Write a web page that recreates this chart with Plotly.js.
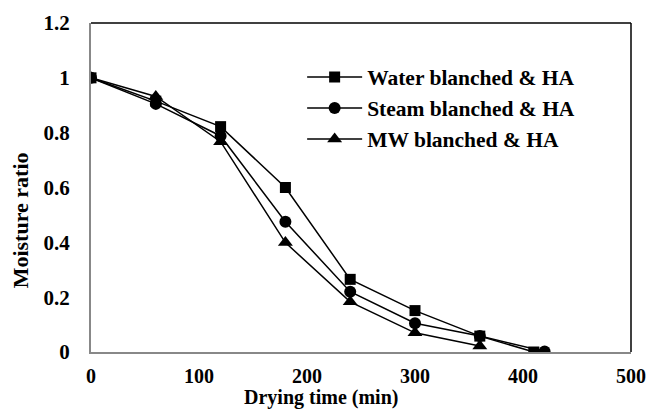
<!DOCTYPE html>
<html>
<head>
<meta charset="utf-8">
<script src="https://cdn.plot.ly/plotly-3.0.1.min.js"></script>
<style>html,body{margin:0;padding:0;background:#fff;}#chart{width:650px;height:410px;}</style>
</head>
<body>
<div id="chart"></div>
<script>
// Data
const seriesNames = ["Water blanched & HA", "Steam blanched & HA", "MW blanched & HA"];
const waterTime  = [0, 60, 120, 180, 240, 300, 360, 410];
const waterMR    = [1.0, 0.915, 0.822, 0.600, 0.265, 0.151, 0.058, 0.0];
const steamTime  = [0, 60, 120, 180, 240, 300, 360, 420];
const steamMR    = [1.0, 0.905, 0.788, 0.475, 0.220, 0.105, 0.058, 0.002];
const mwTime     = [0, 60, 120, 180, 240, 300, 360];
const mwMR       = [1.0, 0.932, 0.767, 0.399, 0.183, 0.070, 0.022];
const xTickVals  = [0, 100, 200, 300, 400, 500];
const yTickVals  = [0, 0.2, 0.4, 0.6, 0.8, 1, 1.2];
const xTitle = "Drying time (min)";
const yTitle = "Moisture ratio";

const FONT = "Liberation Serif, Times New Roman, serif";
function mk(x, y, name, sym, sz, grp) {
  return {
    x: x, y: y, name: name, type: "scatter", mode: "lines+markers",
    legendgroup: grp,
    line: {color: "#000", width: 1.5},
    marker: {symbol: sym, size: sz, color: "#000"}
  };
}
const traces = [
  mk(waterTime, waterMR, seriesNames[0], "square", 11, "a"),
  mk(steamTime, steamMR, seriesNames[1], "circle", 12, "b"),
  mk(mwTime, mwMR, seriesNames[2], "triangle-up", 13, "c")
];
const layout = {
  width: 650, height: 410,
  margin: {l: 91, r: 19, t: 23, b: 58},
  paper_bgcolor: "#fff", plot_bgcolor: "#fff",
  font: {family: FONT, size: 21, color: "#000", weight: "bold"},
  showlegend: true,
  legend: {
    x: 0.391, y: 0.898, xanchor: "left", yanchor: "top",
    bgcolor: "rgba(0,0,0,0)", borderwidth: 0,
    itemwidth: 55, tracegroupgap: 0,
    font: {family: FONT, size: 21.5, color: "#000", weight: "bold"}
  },
  xaxis: {
    range: [0, 500], tickvals: xTickVals, showgrid: false, zeroline: false,
    showline: true, linecolor: "#888", linewidth: 2, ticks: "",
    ticklabelstandoff: 5,
    tickfont: {family: FONT, size: 20, color: "#000", weight: "bold"}
  },
  yaxis: {
    range: [0, 1.2], tickvals: yTickVals, showgrid: false, zeroline: false,
    showline: true, linecolor: "#888", linewidth: 2, ticks: "",
    ticklabelstandoff: 15,
    tickfont: {family: FONT, size: 21, color: "#000", weight: "bold"}
  },
  shapes: [
    {type: "line", xref: "paper", yref: "paper", x0: 0, x1: 1, y0: 1, y1: 1, line: {color: "#000", width: 1.5}},
    {type: "line", xref: "paper", yref: "paper", x0: 1, x1: 1, y0: 0, y1: 1, line: {color: "#000", width: 1.5}}
  ],
  annotations: [
    {text: xTitle, xref: "paper", yref: "paper", x: 0.426, y: -0.176, xanchor: "center", yanchor: "bottom",
     borderpad: 0, showarrow: false, font: {family: FONT, size: 20, color: "#000", weight: "bold"}},
    {text: yTitle, xref: "paper", yref: "paper", x: -0.131, y: 0.401, xanchor: "center", yanchor: "middle",
     textangle: -90, showarrow: false, font: {family: FONT, size: 22, color: "#000", weight: "bold"}}
  ]
};
Plotly.newPlot("chart", traces, layout, {displayModeBar: false, staticPlot: true});
</script>
</body>
</html>
